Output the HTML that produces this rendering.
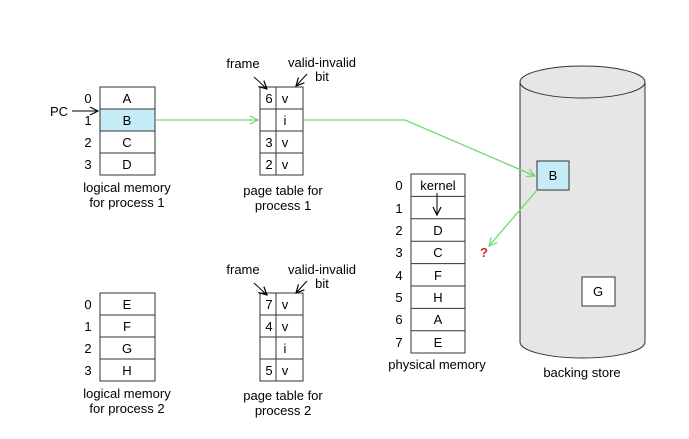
<!DOCTYPE html>
<html><head><style>body{margin:0;background:#fff}svg{display:block}</style></head><body>
<svg width="689" height="439" xmlns="http://www.w3.org/2000/svg" font-family="Liberation Sans, sans-serif" font-size="13" fill="#000">
<defs>
<marker id="ab" markerWidth="10" markerHeight="10" refX="9" refY="5" orient="auto" markerUnits="userSpaceOnUse"><path d="M1,1 L9,5 L1,9" fill="none" stroke="#000" stroke-width="1.2"/></marker>
<marker id="ag" markerWidth="10" markerHeight="10" refX="9" refY="5" orient="auto" markerUnits="userSpaceOnUse"><path d="M1,1 L9,5 L1,9" fill="none" stroke="#6fd96f" stroke-width="1.2"/></marker>
</defs>
<path d="M520,82 L520,342 A62.5,16 0 0 0 645,342 L645,82" fill="#e6e6e6" stroke="#333"/>
<ellipse cx="582.5" cy="82" rx="62.5" ry="16" fill="#e6e6e6" stroke="#333"/>
<rect x="537" y="161" width="32" height="29" fill="#c6ecf8" stroke="#333"/>
<text x="553" y="180" text-anchor="middle">B</text>
<rect x="582" y="277" width="33" height="29" fill="#fff" stroke="#333"/>
<text x="598" y="296" text-anchor="middle">G</text>
<text x="582" y="377" text-anchor="middle">backing store</text>
<g text-anchor="middle">
<rect x="100" y="87" width="55" height="22" fill="#fff" stroke="#333"/>
<rect x="100" y="109" width="55" height="22" fill="#c6ecf8" stroke="#333"/>
<rect x="100" y="131" width="55" height="22" fill="#fff" stroke="#333"/>
<rect x="100" y="153" width="55" height="22" fill="#fff" stroke="#333"/>
<text x="127" y="103">A</text><text x="127" y="125">B</text><text x="127" y="147">C</text><text x="127" y="169">D</text>
<text x="88" y="103">0</text><text x="88" y="125">1</text><text x="88" y="147">2</text><text x="88" y="169">3</text>
<text x="127" y="192">logical memory</text><text x="127" y="207">for process 1</text>
<rect x="100" y="293" width="55" height="22" fill="#fff" stroke="#333"/>
<rect x="100" y="315" width="55" height="22" fill="#fff" stroke="#333"/>
<rect x="100" y="337" width="55" height="22" fill="#fff" stroke="#333"/>
<rect x="100" y="359" width="55" height="22" fill="#fff" stroke="#333"/>
<text x="127" y="309">E</text><text x="127" y="331">F</text><text x="127" y="353">G</text><text x="127" y="375">H</text>
<text x="88" y="309">0</text><text x="88" y="331">1</text><text x="88" y="353">2</text><text x="88" y="375">3</text>
<text x="127" y="398">logical memory</text><text x="127" y="413">for process 2</text>
<rect x="260" y="87" width="43" height="88" fill="#fff" stroke="#333"/>
<path d="M260,109H303M260,131H303M260,153H303M276,87V175" stroke="#333" fill="none"/>
<text x="269" y="103">6</text><text x="285" y="103">v</text>
<text x="285" y="125">i</text>
<text x="269" y="147">3</text><text x="285" y="147">v</text>
<text x="269" y="169">2</text><text x="285" y="169">v</text>
<text x="283" y="195">page table for</text><text x="283" y="210">process 1</text>
<text x="243" y="68">frame</text><text x="322" y="67">valid-invalid</text><text x="322" y="81">bit</text>
<rect x="260" y="293" width="43" height="88" fill="#fff" stroke="#333"/>
<path d="M260,315H303M260,337H303M260,359H303M276,293V381" stroke="#333" fill="none"/>
<text x="269" y="309">7</text><text x="285" y="309">v</text>
<text x="269" y="331">4</text><text x="285" y="331">v</text>
<text x="285" y="353">i</text>
<text x="269" y="375">5</text><text x="285" y="375">v</text>
<text x="283" y="400">page table for</text><text x="283" y="415">process 2</text>
<text x="243" y="274">frame</text><text x="322" y="274">valid-invalid</text><text x="322" y="288">bit</text>
<rect x="411" y="174" width="54" height="179" fill="#fff" stroke="#333"/>
<path d="M411,196.4H465M411,218.8H465M411,241.2H465M411,263.6H465M411,286H465M411,308.4H465M411,330.8H465" stroke="#333"/>
<text x="438" y="190">kernel</text><text x="438" y="235">D</text><text x="438" y="257">C</text><text x="438" y="280">F</text><text x="438" y="302">H</text><text x="438" y="324">A</text><text x="438" y="347">E</text>
<text x="399" y="190">0</text><text x="399" y="213">1</text><text x="399" y="235">2</text><text x="399" y="257">3</text><text x="399" y="280">4</text><text x="399" y="302">5</text><text x="399" y="324">6</text><text x="399" y="347">7</text>
<text x="437" y="369">physical memory</text>
</g>
<text x="50" y="116">PC</text>
<path d="M437,193V215" stroke="#000" marker-end="url(#ab)"/>
<path d="M72,111H98" stroke="#000" marker-end="url(#ab)"/>
<path d="M254,77L267,89" stroke="#000" marker-end="url(#ab)"/>
<path d="M307,74L296,86" stroke="#000" marker-end="url(#ab)"/>
<path d="M254,283L267,295" stroke="#000" marker-end="url(#ab)"/>
<path d="M307,281L296,293" stroke="#000" marker-end="url(#ab)"/>
<g stroke="#6fd96f" stroke-width="1.3" fill="none">
<path d="M155,120H258" marker-end="url(#ag)"/>
<path d="M303,120H405L535,176" marker-end="url(#ag)"/>
<path d="M537,190L489,246" marker-end="url(#ag)"/>
</g>
<text x="480" y="257" fill="#e02020" font-weight="bold" font-size="13">?</text>
</svg>
</body></html>
